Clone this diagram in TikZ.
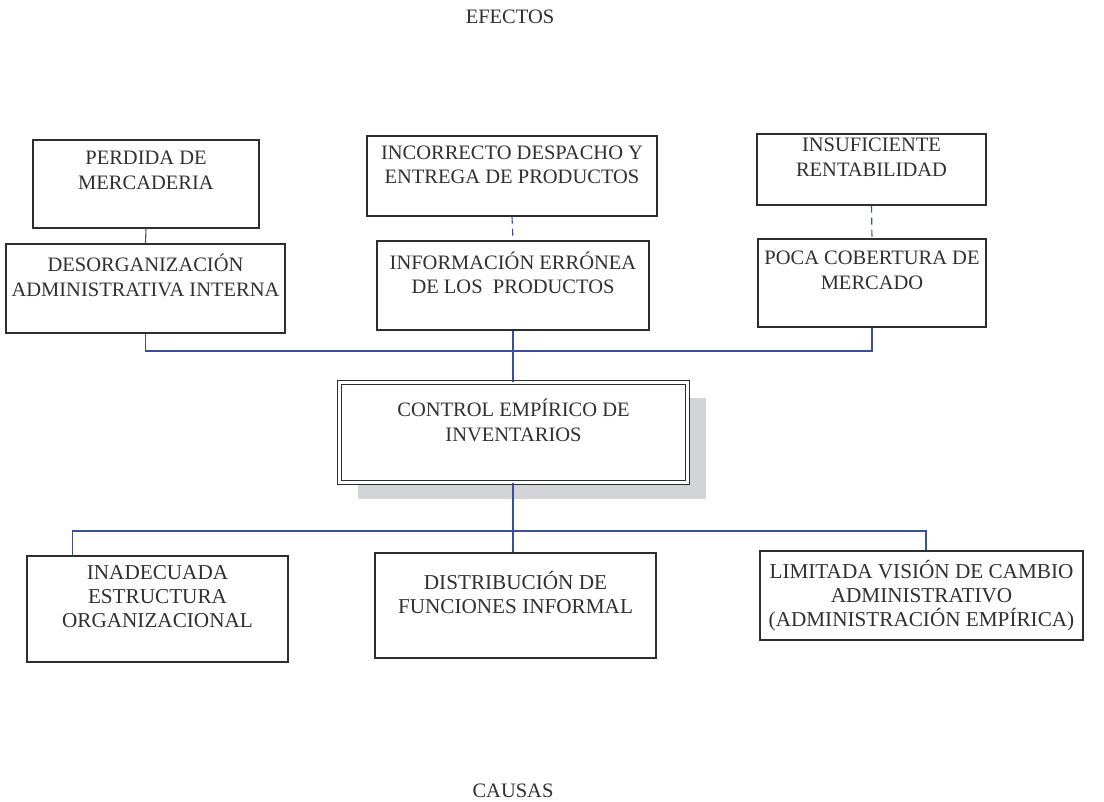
\documentclass[tikz,border=0pt]{standalone}
\usepackage{fontspec}
\setmainfont{Liberation Serif}
\usetikzlibrary{calc,shadows}
\definecolor{linkblue}{HTML}{3A4E9E}
\definecolor{boxline}{HTML}{2E2E2E}
\definecolor{txtcol}{HTML}{303030}
\definecolor{shadowgray}{HTML}{D2D4D8}
\tikzset{
  box/.style={draw=boxline, line width=1.1pt, fill=white, inner sep=0pt},
  txt/.style={text=txtcol, align=center, inner sep=0pt, font=\fontsize{20.5}{24.5}\selectfont},
  ltxt/.style={txt, font=\fontsize{21.2}{24}\selectfont},
  link/.style={draw=linkblue, line width=1.1pt},
  dlink/.style={link, dash pattern=on 7pt off 5pt},
  centralbox/.style={draw=boxline, line width=1pt, double=white, double distance=2.6pt, fill=white, inner sep=0pt,
    drop shadow={shadow xshift=18pt, shadow yshift=-16pt, fill=shadowgray, opacity=1}}
}
\begin{document}
\begin{tikzpicture}[x=1pt,y=-1pt]
\useasboundingbox[fill=white] (0,0) rectangle (1104,802);

% titles
\node[txt] (efectos) at (510,17) {EFECTOS};
\node[txt] (causas) at (513,791) {CAUSAS};

% upper boxes
\node[box, minimum width=226pt, minimum height=88pt] (pm) at (146,184) {};
\node[txt] (pmT) at (146,170.5) {PERDIDA DE\\MERCADERIA};
\node[box, minimum width=279pt, minimum height=89pt] (dai) at (145.5,288.5) {};
\node[txt] (daiT) at (145.5,275.5) {DESORGANIZACIÓN\\ADMINISTRATIVA INTERNA};

\node[box, minimum width=290pt, minimum height=80pt] (ide) at (512,176) {};
\node[txt] (ideT) at (512,165) {INCORRECTO DESPACHO Y\\ENTREGA DE PRODUCTOS};
\node[box, minimum width=272pt, minimum height=89pt] (inf) at (513,285.5) {};
\node[txt] (infT) at (513,273) {INFORMACIÓN ERRÓNEA\\DE LOS\ \ PRODUCTOS};

\node[box, minimum width=229pt, minimum height=71pt] (ins) at (871.5,169.5) {};
\node[txt] (insT) at (871.5,157) {INSUFICIENTE\\RENTABILIDAD};
\node[box, minimum width=228pt, minimum height=88pt] (poc) at (872,283) {};
\node[txt] (pocT) at (872,270.5) {POCA COBERTURA DE\\MERCADO};

% central
\node[centralbox, minimum width=348pt, minimum height=100pt] (cen) at (513.5,432.5) {};
\node[txt] (cenT) at (513.5,420.5) {CONTROL EMPÍRICO DE\\INVENTARIOS};

% lower boxes
\node[box, minimum width=261pt, minimum height=106pt] (ina) at (157.5,609) {};
\node[ltxt] (inaT) at (157.5,597) {INADECUADA\\ESTRUCTURA\\ORGANIZACIONAL};
\node[box, minimum width=281pt, minimum height=105pt] (dis) at (515.5,605.5) {};
\node[ltxt] (disT) at (515.5,592.5) {DISTRIBUCIÓN DE\\FUNCIONES INFORMAL};
\node[box, minimum width=323pt, minimum height=89pt] (lim) at (921.5,595.5) {};
\node[ltxt] (limT) at (921.5,596) {LIMITADA VISIÓN DE CAMBIO\\ADMINISTRATIVO\\(ADMINISTRACIÓN EMPÍRICA)};

% connectors upper
\draw[link] (pm.south) -- (dai.north);
\draw[dlink] (ide.south) -- (inf.north);
\draw[dlink] (ins.south) -- (poc.north);
\coordinate (busTop) at (513,351);
\draw[link] (dai.south) |- (busTop) -| (poc.south);
\draw[link] (inf.south) -- (inf.south |- cen.north);

% connectors lower
\coordinate (busLow) at (513,531);
\coordinate (inaTop) at ($(ina.north west)+(46,0)$);
\coordinate (limTop) at ($(lim.north)+(4.5,0)$);
\draw[link] (busLow |- cen.south) -- (busLow |- dis.north);
\draw[link] (inaTop) |- (busLow) -| (limTop);
\end{tikzpicture}
\end{document}
